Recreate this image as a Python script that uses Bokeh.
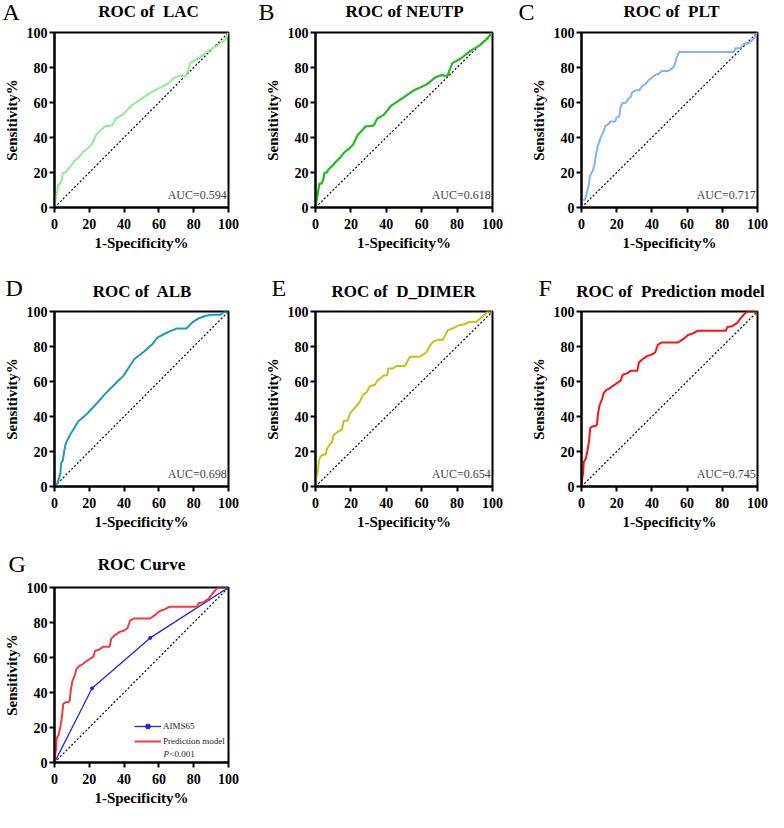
from bokeh.plotting import figure
from bokeh.layouts import column, row
from bokeh.models import Range1d, Label, Legend, LegendItem, FixedTicker
from bokeh.core.properties import value
from bokeh.embed import file_html
from bokeh.resources import INLINE

# ---------------- data ----------------
lac_fpr = [0, 0.6, 1.5, 2.2, 3.3, 4.3, 4.8, 6.5, 7.4, 9.6, 11.5, 13.9, 16.3, 18.5, 21.3, 24, 26.9, 29.3,
           31.5, 33.3, 35.2, 38.9, 42.6, 44.4, 50, 55.6, 61.1, 64.8, 68.5, 71.3, 75.4, 76.9, 78.1, 81.5,
           85.2, 88, 92.6, 98.1, 100]
lac_tpr = [0, 5.2, 9, 13, 13.6, 16.4, 19.8, 20, 21.6, 23.9, 26.7, 28.5, 31.7, 33.2, 36, 41.6, 44.4, 46.6,
           46.6, 47.2, 50.9, 52.8, 56.5, 58.4, 62.1, 65.9, 68.7, 70.5, 73.9, 75.2, 75.2, 78.9, 82.6, 84.5,
           86.9, 89.2, 92, 95.7, 100]

neutp_fpr = [0, 0.6, 1.3, 2.2, 3.5, 4.5, 5, 6.5, 7.2, 9.6, 11.5, 13.9, 16.1, 18.9, 21.3, 23.9, 26.3, 28.2,
             31.9, 33.2, 34.7, 38.4, 43, 49.5, 56, 62.5, 68.1, 70.9, 74.6, 75.9, 77.4, 82, 84.8, 88.5,
             93.1, 96.8, 100]
neutp_tpr = [0, 4.3, 8, 13.6, 13.6, 16.4, 19.8, 20.1, 21.6, 23.9, 26.1, 28.5, 31.3, 33.6, 36, 41.6, 44, 46.3,
             46.6, 47.2, 50.7, 52.8, 58.4, 62.7, 67.2, 70.1, 74.6, 75.6, 75.2, 78.9, 82.6, 85, 87.3, 90.1,
             92.9, 96.3, 100]

plt_fpr = [0, 0, 1.9, 3.2, 4.3, 4.7, 6.5, 7.4, 8.4, 9.3, 10.6, 12.1, 13.6, 15.5, 16.2, 19.2, 19.9, 21.4,
           22.3, 23.3, 25.1, 26.6, 27.9, 28.9, 30.7, 33, 34.1, 36.3, 38.2, 40, 41.9, 44.1, 45.6, 49.3,
           52.1, 53.1, 54, 55.3, 86.6, 87.5, 90.3, 92.2, 94.9, 97.7, 100]
plt_tpr = [0, 4.3, 4.3, 9, 13.6, 17.9, 21.1, 24.8, 31.3, 35.1, 39.2, 42.5, 46.6, 47.8, 49.1, 49.1, 51.5, 51.9,
           57.8, 59.7, 59.7, 62.1, 63.1, 65.9, 66.8, 67.2, 69, 70.5, 72.8, 74.3, 75.7, 76.5, 78, 78,
           79.9, 82.1, 85.4, 88.8, 88.8, 91, 91, 93.3, 93.8, 96.3, 100]

alb_fpr = [0, 1.5, 2.4, 3.3, 3.9, 4.8, 5.6, 6.5, 8.9, 11.2, 13.6, 18.6, 23.8, 29.4, 34.9, 39.6, 44.2, 46.1,
           51.7, 56.3, 59.1, 62.8, 66.5, 70.3, 75.8, 79.6, 83.3, 87, 90.7, 95.4, 97.2, 100]
alb_tpr = [0, 1.5, 4.3, 7.1, 13.6, 14.9, 20.4, 24.7, 29.4, 33.1, 37.2, 41.4, 47, 53.2, 58.7, 63.2, 70.3, 73,
           77.3, 81.4, 85.1, 87, 88.8, 90.3, 90.3, 94.1, 96.3, 97.6, 98.1, 98.1, 99.6, 100]

dd_fpr = [0, 0.2, 0.9, 1.5, 1.9, 2.8, 3.7, 5.6, 6.5, 8, 9.3, 10.3, 12.1, 13.1, 15, 15.9, 18.1, 19.6, 21.9,
          23.4, 25.2, 26.7, 29, 30.8, 33.6, 34.9, 36.4, 38.3, 40.6, 41.1, 43.6, 45.8, 50.5, 53.3, 58.9,
          62.6, 65, 66.7, 69.2, 72, 74.8, 77.6, 81.3, 84.1, 86.9, 90.7, 94.4, 96.3, 97.2, 100]
dd_tpr = [0, 3.7, 6.5, 10.2, 14.9, 16.8, 18.1, 18.1, 21.4, 24.2, 25.1, 29.8, 30.7, 31.7, 32.6, 37.6, 37.6,
          41.9, 44.7, 46.2, 48.8, 52.1, 54, 57.4, 58.1, 60.5, 61.5, 63.3, 63.7, 67.4, 67.4, 68.9, 68.9,
          74.1, 74.1, 76.7, 81, 82.9, 83.8, 83.8, 89.4, 90.3, 92.2, 92.7, 94, 94, 97.2, 98.7, 100, 100]

pm_fpr = [0, 0.4, 0.9, 1.3, 2.4, 3.4, 4.3, 5, 6.5, 8, 8.8, 9.3, 10.2, 11.7, 12.5, 14, 15.8, 17.7, 19.6,
          22.3, 23.3, 26.1, 27.9, 31.7, 32.6, 34.5, 37.2, 40, 41.9, 43.4, 45.6, 54.9, 57.7, 60.5, 63.3,
          66.1, 82, 82.9, 85.7, 88.5, 90.3, 92.6, 94.4, 100]
pm_tpr = [0, 4.7, 7.4, 14, 15.8, 20.5, 26.1, 33.5, 34.5, 34.5, 35.4, 41, 46.2, 50, 53.2, 55.1, 55.9, 57.4,
          58.7, 60.5, 63.7, 64.8, 66.1, 66.1, 70.8, 72.6, 74.5, 75.4, 76.7, 81, 82.3, 82.3, 84.2, 86.6,
          87.5, 89, 89, 91.2, 91.6, 93.5, 95.9, 98.7, 100, 100]

aims_fpr = [0, 21.6, 55, 100]
aims_tpr = [0, 42.4, 71.2, 100]

ticks = [0, 20, 40, 60, 80, 100]
ref_line = [0, 100]

NB = "\u00a0"
row1_titles = ["ROC of" + NB + " LAC", "ROC of NEUTP", "ROC of" + NB + " PLT"]
row2_titles = ["ROC of" + NB + " ALB", "ROC of" + NB + " D_DIMER", "ROC of" + NB + " Prediction model"]
row3_titles = ["ROC Curve"]
row1_letters = ["A", "B", "C"]
row2_letters = ["D", "E", "F"]
row3_letters = ["G"]
auc_labels = ["AUC=0.594", "AUC=0.618", "AUC=0.717", "AUC=0.698", "AUC=0.654", "AUC=0.745"]

SERIF = "Liberation Serif"
PAGE_W = 768

# column geometry: (fig width, left border, right border)
COLS = [(258, 51, 30), (262, 57, 28), (248, 61, 11)]
# plot rows: (fig height, top border, bottom border)
ROWS = [(234, 9, 50), (234, 9, 50), (234, 9, 50)]


def header(h, letters, letter_x, letter_y, titles, title_x, title_y):
    p = figure(width=PAGE_W, height=h, output_backend="svg", toolbar_location=None, title=None,
               x_range=Range1d(0, PAGE_W), y_range=Range1d(0, h),
               x_axis_type=None, y_axis_type=None, min_border=0,
               outline_line_color=None)
    p.grid.visible = False
    p.text(x=letter_x, y=letter_y, text=letters, text_font=value(SERIF),
           text_font_size=value("24px"), text_align="left", text_baseline="alphabetic",
           text_color="black")
    p.text(x=title_x, y=title_y, text=titles, text_font=value(SERIF),
           text_font_size=value("17px"), text_font_style="bold", text_align="center",
           text_baseline="alphabetic", text_color="black")
    return p


def make_panel(col, rw, curves, auc=None):
    w, bl, br = COLS[col]
    h, bt, bb = ROWS[rw]
    p = figure(width=w, height=h, output_backend="svg", toolbar_location=None, title=None,
               x_range=Range1d(0, 100), y_range=Range1d(0, 100),
               min_border_left=bl, min_border_right=br, min_border_top=bt, min_border_bottom=bb)
    p.grid.visible = False
    p.outline_line_color = "black"
    p.outline_line_width = 2
    for ax in (p.xaxis[0], p.yaxis[0]):
        ax.ticker = FixedTicker(ticks=ticks)
        ax.minor_tick_line_color = None
        ax.major_tick_in = 0
        ax.major_tick_out = 5
        ax.major_tick_line_width = 2
        ax.axis_line_width = 2
        ax.axis_line_color = "black"
        ax.major_tick_line_color = "black"
        ax.major_label_text_font = SERIF
        ax.major_label_text_font_size = "14px"
        ax.major_label_text_font_style = "bold"
        ax.major_label_text_color = "black"
        ax.axis_label_text_font = SERIF
        ax.axis_label_text_font_size = "15px"
        ax.axis_label_text_font_style = "bold"
        ax.axis_label_text_color = "black"
    p.xaxis.axis_label = "1-Specificity%"
    p.yaxis.axis_label = "Sensitivity%"
    p.xaxis.major_label_standoff = 6
    p.xaxis.axis_label_standoff = 3
    p.yaxis.major_label_standoff = 2
    p.yaxis.axis_label_standoff = 4

    p.line(ref_line, ref_line, line_color="black", line_width=1.2, line_dash="2 2")
    renderers = []
    for xs, ys, color, lw in curves:
        renderers.append(p.line(xs, ys, line_color=color, line_width=lw))
    if auc is not None:
        p.add_layout(Label(x=99, y=3, text=auc, text_align="right", text_baseline="bottom",
                           text_font=SERIF, text_font_size="12px", text_color="#404040"))
    return p, renderers


h1 = header(23, row1_letters, [2, 258, 518], [12, 12, 12], row1_titles, [148, 404, 671], [12, 12, 12])
h2 = header(45, row2_letters, [5, 271, 538], [15, 15, 15], row2_titles, [142, 403, 670], [11, 11, 11])
h3 = header(42, row3_letters, [8], [15], row3_titles, [141], [14])

pA, _ = make_panel(0, 0, [(lac_fpr, lac_tpr, "#8EEE8E", 2)], auc_labels[0])
pB, _ = make_panel(1, 0, [(neutp_fpr, neutp_tpr, "#22BB22", 2.2)], auc_labels[1])
pC, _ = make_panel(2, 0, [(plt_fpr, plt_tpr, "#80B2FF", 2)], auc_labels[2])
pD, _ = make_panel(0, 1, [(alb_fpr, alb_tpr, "#1A9EB6", 2)], auc_labels[3])
pE, _ = make_panel(1, 1, [(dd_fpr, dd_tpr, "#C4C418", 2)], auc_labels[4])
pF, _ = make_panel(2, 1, [(pm_fpr, pm_tpr, "#FF1111", 2)], auc_labels[5])
pG, rg = make_panel(0, 2, [(aims_fpr, aims_tpr, "#2222EE", 1.3), (pm_fpr, pm_tpr, "#F03C3C", 2)])
dots = pG.scatter(aims_fpr, aims_tpr, size=3, color="#2222EE")
legend = Legend(items=[LegendItem(label="AIMS65", renderers=[rg[0], dots]),
                       LegendItem(label="Prediction model", renderers=[rg[1]])],
                location=(80, 15), orientation="vertical", padding=0, margin=0, spacing=3,
                glyph_width=27, glyph_height=12, label_height=12, label_standoff=2,
                label_text_font=SERIF, label_text_font_size="9px", label_text_color="#222222",
                border_line_color=None, background_fill_alpha=0)
pG.add_layout(legend, "center")
pG.add_layout(Label(x=109, y=9, x_units="screen", y_units="screen", text="P",
                    text_font=SERIF, text_font_style="italic", text_font_size="9px",
                    text_baseline="middle", text_align="left", text_color="#222222"))
pG.add_layout(Label(x=115, y=9, x_units="screen", y_units="screen", text="<0.001",
                    text_font=SERIF, text_font_size="9px",
                    text_baseline="middle", text_align="left", text_color="#222222"))

layout = column(h1, row(pA, pB, pC), h2, row(pD, pE, pF), h3, row(pG))
open("out.html", "w").write(file_html(layout, INLINE))
